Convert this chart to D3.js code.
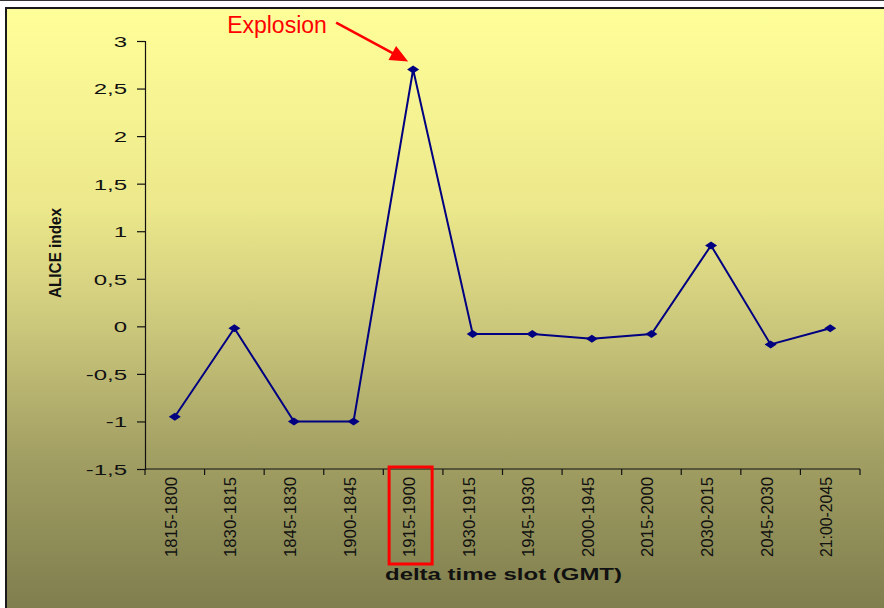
<!DOCTYPE html>
<html>
<head>
<meta charset="utf-8">
<script src="https://cdn.jsdelivr.net/npm/d3@7"></script>
<style>
  html, body { margin: 0; padding: 0; background: #ffffff; }
  svg { display: block; font-family: "Liberation Sans", Arial, sans-serif; }
</style>
</head>
<body>
<svg id="chart" width="884" height="608"></svg>
<script>
// Time slots (GMT) and the ALICE index measured in each
const categories = ["1815-1800", "1830-1815", "1845-1830", "1900-1845", "1915-1900", "1930-1915",
                    "1945-1930", "2000-1945", "2015-2000", "2030-2015", "2045-2030", "21:00-2045"];
const aliceIndex = [-0.95, -0.02, -1.0, -1.0, 2.7, -0.08, -0.08, -0.13, -0.08, 0.85, -0.19, -0.02];
const yTicks = [-1.5, -1, -0.5, 0, 0.5, 1, 1.5, 2, 2.5, 3];
const highlightSlot = "1915-1900";
const annotationText = "Explosion";

const W = 884, H = 608;
const svg = d3.select("#chart");

// Panel background gradient
const defs = svg.append("defs");
const grad = defs.append("linearGradient").attr("id", "bg")
  .attr("x1", 0).attr("y1", 0).attr("x2", 0).attr("y2", 1);
[[0, "#ffff99"], [0.32, "#ece88b"], [0.49, "#d0cc7e"], [0.72, "#a3a064"], [1, "#7b7a4b"]]
  .forEach(([o, c]) => grad.append("stop").attr("offset", o).attr("stop-color", c));

svg.append("line").attr("x1", 0).attr("x2", W).attr("y1", 0.5).attr("y2", 0.5)
  .attr("stroke", "#333").attr("stroke-width", 1);
svg.append("rect").attr("x", 6).attr("y", 8).attr("width", W + 10).attr("height", H + 10)
  .attr("fill", "url(#bg)").attr("stroke", "#1a1a1a").attr("stroke-width", 2);

// Scales
const x = d3.scaleBand().domain(categories).range([145, 860]);
const y = d3.scaleLinear().domain([-1.5, 3]).range([469, 41]);
const cx = d => x(d) + x.bandwidth() / 2;

// Y axis
const yAxis = svg.append("g").attr("transform", "translate(145,0)")
  .call(d3.axisLeft(y).tickValues(yTicks).tickSizeOuter(0).tickSize(8).tickPadding(10)
    .tickFormat(d => String(d).replace(".", ",")));
yAxis.select(".domain").attr("stroke", "#111").attr("stroke-width", 1.2);
yAxis.selectAll(".tick line").attr("stroke", "#111").attr("stroke-width", 1.2);
const xs = 1.6;
yAxis.selectAll(".tick text")
  .attr("font-size", 15).attr("fill", "#111")
  .attr("font-family", "Liberation Sans, Arial, sans-serif")
  .attr("x", -18 / xs).attr("dy", "0.36em")
  .attr("transform", `scale(${xs},1)`);

// X axis with ticks on category boundaries
const xAxis = svg.append("g").attr("transform", "translate(0,469)");
xAxis.append("line").attr("x1", 145).attr("x2", 860).attr("stroke", "#111").attr("stroke-width", 1.2);
const bounds = categories.map(c => x(c)).concat([x.range()[1]]);
xAxis.selectAll("line.tk").data(bounds).join("line").attr("class", "tk")
  .attr("x1", d => d).attr("x2", d => d).attr("y1", 0).attr("y2", 6)
  .attr("stroke", "#111").attr("stroke-width", 1.2);

svg.append("g").selectAll("text").data(categories).join("text")
  .attr("transform", d => `translate(${cx(d)},477) rotate(-90)`)
  .attr("y", 2)
  .attr("text-anchor", "end")
  .attr("font-size", 16.5).attr("fill", "#111")
  .attr("textLength", 80).attr("lengthAdjust", "spacingAndGlyphs")
  .text(d => d);

// Highlight box around the explosion slot label
svg.append("rect")
  .attr("x", cx(highlightSlot) - 24).attr("y", 467)
  .attr("width", 43).attr("height", 97)
  .attr("fill", "none").attr("stroke", "#ff0000").attr("stroke-width", 3);

// Axis titles
svg.append("text").attr("x", 503.5).attr("y", 580).attr("text-anchor", "middle")
  .attr("font-size", 17).attr("font-weight", "bold").attr("fill", "#111")
  .attr("textLength", 237).attr("lengthAdjust", "spacingAndGlyphs")
  .text("delta time slot (GMT)");
svg.append("text").attr("transform", "translate(61,253) rotate(-90)").attr("text-anchor", "middle")
  .attr("font-size", 17).attr("font-weight", "bold").attr("fill", "#111")
  .attr("textLength", 90).attr("lengthAdjust", "spacingAndGlyphs")
  .text("ALICE index");

// Series line and diamond markers
const pts = categories.map((c, i) => ({ c, v: aliceIndex[i] }));
svg.append("path").datum(pts)
  .attr("d", d3.line().x(d => cx(d.c)).y(d => y(d.v)))
  .attr("fill", "none").attr("stroke", "#000080").attr("stroke-width", 2);
svg.append("g").selectAll("path").data(pts).join("path")
  .attr("transform", d => `translate(${cx(d.c)},${y(d.v)})`)
  .attr("d", "M-6,0L0,-4L6,0L0,4Z")
  .attr("fill", "#000080");

// "Explosion" annotation pointing at the peak
const peakIdx = aliceIndex.indexOf(d3.max(aliceIndex));
const px = cx(categories[peakIdx]), py = y(aliceIndex[peakIdx]);
const tip = [px - 5, py - 8];
const start = [px - 77, py - 47];
const dx = tip[0] - start[0], dy = tip[1] - start[1];
const len = Math.hypot(dx, dy), ux = dx / len, uy = dy / len;
const headL = 18, headW = 8;
const base = [tip[0] - ux * headL, tip[1] - uy * headL];
svg.append("line")
  .attr("x1", start[0]).attr("y1", start[1])
  .attr("x2", base[0] + ux * 2).attr("y2", base[1] + uy * 2)
  .attr("stroke", "#ff0000").attr("stroke-width", 2.5);
svg.append("path")
  .attr("d", `M${tip[0]},${tip[1]}L${base[0] - uy * headW},${base[1] + ux * headW}L${base[0] + uy * headW},${base[1] - ux * headW}Z`)
  .attr("fill", "#ff0000");
svg.append("text").attr("x", px - 186).attr("y", 33)
  .attr("font-size", 23).attr("fill", "#ff0000")
  .text(annotationText);
</script>
</body>
</html>
